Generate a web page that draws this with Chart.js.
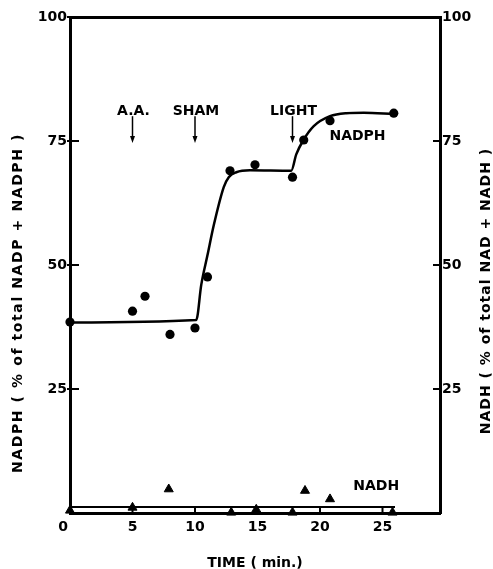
<!DOCTYPE html>
<html>
<head>
<meta charset="utf-8">
<title>NADPH / NADH vs time</title>
<script src="https://cdn.jsdelivr.net/npm/chart.js@4.4.1/dist/chart.umd.min.js"></script>
<style>
  html, body { margin: 0; padding: 0; background: #fff; }
  canvas { display: block; }
</style>
</head>
<body>
<canvas id="chart" width="493" height="569"></canvas>
<script>
// values: time in min, % of total pool
const xTicks = [0, 5, 10, 15, 20, 25];
const yTicks = [0, 25, 50, 75, 100];

const nadphTime = [0, 5, 6, 8, 10, 11, 12.8, 14.8, 17.8, 18.7, 20.8, 25.9];
const nadphPct  = [38.5, 40.7, 43.7, 36, 37.3, 47.6, 69, 70.2, 67.7, 75.2, 79.1, 80.6];

// hand-drawn fit through the NADPH points
const nadphFitTime = [0, 10.1, 10.5, 11, 11.5, 12.3, 12.7, 13.3, 14.4, 17.7, 18.1, 18.7, 19.5, 20.8, 22.1, 23.5, 25.9];
const nadphFitPct  = [38.4, 38.9, 46, 52, 58, 65.7, 67.7, 68.7, 69.1, 69, 72.3, 75.3, 78, 80, 80.6, 80.7, 80.4];

const nadhTime = [0, 5, 7.9, 12.9, 14.9, 17.8, 18.8, 20.8, 25.8];
const nadhPct  = [0.5, 1.1, 4.8, 0.1, 0.7, 0.1, 4.5, 2.8, 0.1];

const nadhFitTime = [0, 26];
const nadhFitPct  = [1.2, 1.2];

// additions marked with arrows
const eventTime  = [5, 10, 17.8];
const eventLabel = ['A.A.', 'SHAM', 'LIGHT'];

const seriesLabel     = ['NADPH', 'NADH'];
const seriesLabelTime = [23, 24.5];
const seriesLabelPct  = [75.9, 5.3];

const FONT = '"DejaVu Sans", "Liberation Sans", sans-serif';
const pts  = (xs, ys) => xs.map((x, i) => ({ x, y: ys[i] }));

// short tick marks pointing into the plot
const inwardTicks = {
  id: 'inwardTicks',
  afterDatasetsDraw(chart) {
    const { ctx, chartArea: a, scales } = chart;
    ctx.save();
    ctx.strokeStyle = '#000';
    ctx.lineWidth = 2;
    ctx.beginPath();
    scales.y.ticks.forEach(t => {
      if (!t.value) return;
      const py = scales.y.getPixelForValue(t.value);
      ctx.moveTo(a.left - 3, py); ctx.lineTo(a.left + 9, py);
    });
    scales.y2.ticks.forEach(t => {
      if (!t.value) return;
      const py = scales.y2.getPixelForValue(t.value);
      ctx.moveTo(a.right - 7, py); ctx.lineTo(a.right, py);
    });
    scales.x.ticks.forEach(t => {
      if (!t.value) return;
      const px = scales.x.getPixelForValue(t.value);
      ctx.moveTo(px, a.bottom); ctx.lineTo(px, a.bottom - 6);
    });
    ctx.stroke();
    ctx.restore();
  }
};

// arrows, event names, series names, y titles
const notes = {
  id: 'notes',
  afterDraw(chart) {
    const { ctx, scales } = chart;
    const sx = scales.x, sy = scales.y;
    ctx.save();
    ctx.fillStyle = '#000';
    ctx.strokeStyle = '#000';
    ctx.font = 'bold 14px ' + FONT;
    ctx.textAlign = 'center';
    ctx.textBaseline = 'middle';

    eventTime.forEach((t, i) => {
      const px = sx.getPixelForValue(t);
      const top = sy.getPixelForValue(80);
      const tip = sy.getPixelForValue(74.6);
      ctx.lineWidth = 1.5;
      ctx.beginPath();
      ctx.moveTo(px, top); ctx.lineTo(px, tip - 5);
      ctx.stroke();
      ctx.beginPath();
      ctx.moveTo(px - 2.5, tip - 7); ctx.lineTo(px + 2.5, tip - 7); ctx.lineTo(px, tip);
      ctx.closePath();
      ctx.fill();
      ctx.fillText(eventLabel[i], px + 1, sy.getPixelForValue(80.9));
    });

    seriesLabel.forEach((s, i) => {
      ctx.fillText(s, sx.getPixelForValue(seriesLabelTime[i]), sy.getPixelForValue(seriesLabelPct[i]));
    });

    ctx.textBaseline = 'alphabetic';
    ctx.letterSpacing = '1.6px';
    ctx.translate(22, 303);
    ctx.rotate(-Math.PI / 2);
    ctx.fillText('NADPH ( % of total NADP + NADPH )', 0, 0);
    ctx.setTransform(1, 0, 0, 1, 0, 0);
    ctx.letterSpacing = '1px';
    ctx.translate(490, 291);
    ctx.rotate(-Math.PI / 2);
    ctx.fillText('NADH ( % of total NAD + NADH )', 0, 0);
    ctx.restore();
  }
};

const tickFont = { family: FONT, size: 14, weight: 'bold' };
const frame = { display: true, color: '#000', width: 3 };
const noGrid = { display: false, drawTicks: false };

new Chart(document.getElementById('chart'), {
  type: 'scatter',
  data: {
    datasets: [
      {
        label: 'NADPH fit',
        data: pts(nadphFitTime, nadphFitPct),
        showLine: true,
        borderColor: '#000',
        borderWidth: 2.5,
        cubicInterpolationMode: 'monotone',
        pointRadius: 0,
        clip: false,
      },
      {
        label: 'NADH fit',
        data: pts(nadhFitTime, nadhFitPct),
        yAxisID: 'y2',
        showLine: true,
        borderColor: '#000',
        borderWidth: 2,
        pointRadius: 0,
        clip: false,
      },
      {
        label: 'NADPH',
        data: pts(nadphTime, nadphPct),
        pointStyle: 'circle',
        pointRadius: 4.6,
        backgroundColor: '#000',
        borderWidth: 0,
        clip: false,
      },
      {
        label: 'NADH',
        data: pts(nadhTime, nadhPct),
        yAxisID: 'y2',
        pointStyle: 'triangle',
        pointRadius: 5.2,
        backgroundColor: '#000',
        borderColor: '#000',
        borderWidth: 1,
        clip: false,
      },
    ],
  },
  options: {
    responsive: false,
    animation: false,
    events: [],
    layout: { padding: { top: 17, left: 0, right: 0, bottom: 0 } },
    plugins: { legend: { display: false }, tooltip: { enabled: false } },
    scales: {
      x: {
        type: 'linear', position: 'bottom', min: 0, max: 29.6,
        afterBuildTicks: s => { s.ticks = xTicks.map(v => ({ value: v })); },
        afterFit: s => { s.height = 56; },
        grid: noGrid,
        border: frame,
        ticks: {
          color: '#000', font: tickFont, padding: 6, maxRotation: 0, autoSkip: false,
          callback: v => v === 0 ? '0\u2003' : String(v),
        },
        title: {
          display: true, text: 'TIME ( min.)', color: '#000',
          font: { family: FONT, size: 14, weight: 'bold' }, padding: { top: 0, bottom: -3 },
        },
      },
      x2: {
        type: 'linear', position: 'top', min: 0, max: 29.6,
        afterFit: s => { s.height = 0; },
        grid: noGrid,
        border: frame,
        ticks: { display: false },
      },
      y: {
        type: 'linear', position: 'left', min: 0, max: 100,
        afterBuildTicks: s => { s.ticks = yTicks.map(v => ({ value: v })); },
        afterFit: s => { s.width = 70; },
        grid: noGrid,
        border: frame,
        ticks: { color: '#000', font: tickFont, padding: 3, callback: v => v === 0 ? '' : String(v) },
      },
      y2: {
        type: 'linear', position: 'right', min: 0, max: 100,
        afterBuildTicks: s => { s.ticks = yTicks.map(v => ({ value: v })); },
        afterFit: s => { s.width = 53; },
        grid: noGrid,
        border: frame,
        ticks: { color: '#000', font: tickFont, padding: 2, callback: v => v === 0 ? '' : String(v) },
      },
    },
  },
  plugins: [inwardTicks, notes],
});
</script>
</body>
</html>
